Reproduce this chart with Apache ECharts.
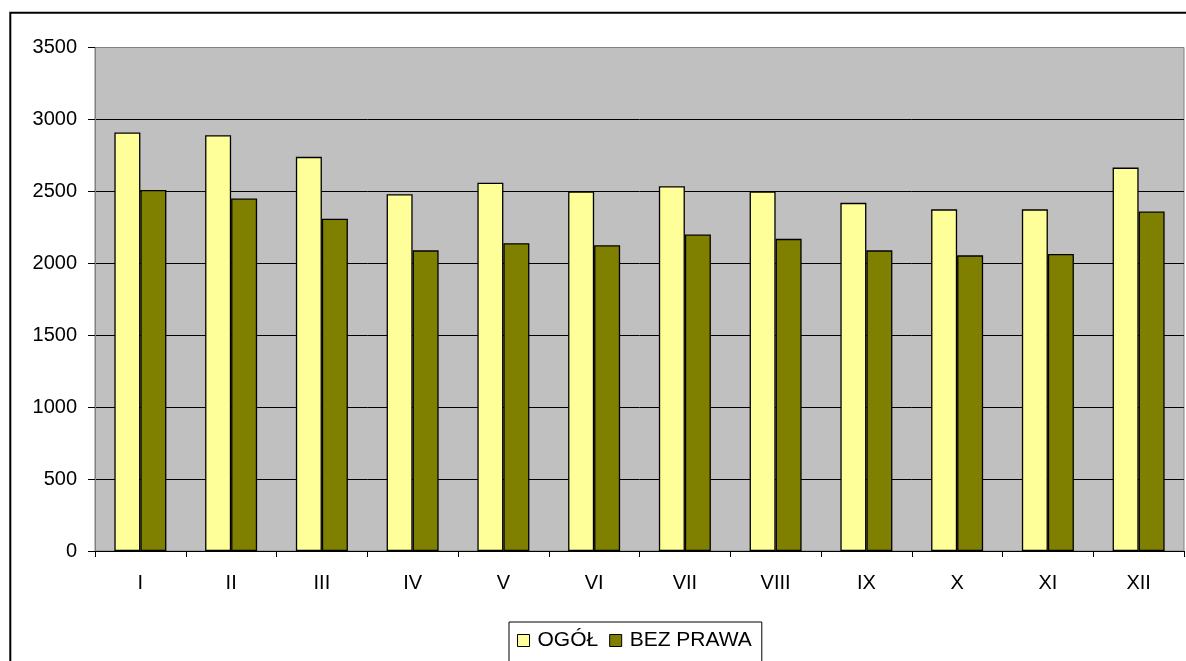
<!DOCTYPE html>
<html>
<head>
<meta charset="utf-8">
<script src="https://cdn.jsdelivr.net/npm/echarts@6/dist/echarts.min.js"></script>
<style>
html,body{margin:0;padding:0;background:#fff;}
#chart{width:1186px;height:661px;}
</style>
</head>
<body>
<div id="chart"></div>
<script>
const categories = ['I','II','III','IV','V','VI','VII','VIII','IX','X','XI','XII'];
const seriesNames = ['OGÓŁ','BEZ PRAWA'];
const ogol = [2910, 2890, 2740, 2480, 2560, 2500, 2535, 2500, 2420, 2375, 2375, 2665];
const bezPrawa = [2510, 2450, 2310, 2090, 2140, 2125, 2200, 2170, 2090, 2055, 2065, 2360];
const yTicks = [0, 500, 1000, 1500, 2000, 2500, 3000, 3500];

const chart = echarts.init(document.getElementById('chart'), null, {renderer:'canvas'});
const font = 'Liberation Sans, Arial, sans-serif';
chart.setOption({
  animation: false,
  backgroundColor: '#fff',
  textStyle: {fontFamily: font},
  graphic: [{
    type: 'rect',
    shape: {x: 10.3, y: 12.7, width: 1300, height: 800},
    style: {fill: 'none', stroke: '#000', lineWidth: 2},
    z: -10
  }],
  grid: {
    left: 95, top: 47.5, right: 2, bottom: 110,
    show: true, backgroundColor: '#C0C0C0', borderColor: '#808080', borderWidth: 1
  },
  legend: {
    left: 509, top: 622,
    data: seriesNames,
    icon: 'rect',
    itemWidth: 12, itemHeight: 12,
    itemGap: 11,
    borderColor: '#000', borderWidth: 1,
    padding: [8, 10, 30, 8],
    textStyle: {fontSize: 21, color: '#000', fontFamily: font, padding: [0,0,0,3]},
    itemStyle: {borderColor: '#000', borderWidth: 1}
  },
  xAxis: {
    type: 'category',
    data: categories,
    axisLine: {show: true, lineStyle: {color: '#000', width: 1}},
    axisTick: {show: true, length: 6, lineStyle: {color: '#000'}},
    axisLabel: {fontSize: 20, color: '#000', margin: 22, fontFamily: font}
  },
  yAxis: {
    type: 'value',
    min: yTicks[0], max: yTicks[yTicks.length-1], interval: 500,
    axisLine: {show: true, lineStyle: {color: '#808080'}},
    axisTick: {show: true, length: 7, lineStyle: {color: '#000'}},
    axisLabel: {fontSize: 20, color: '#000', margin: 18, fontFamily: font, formatter: v => String(v)},
    splitLine: {show: true, lineStyle: {color: ['#000','#000','#000','#000','#000','#000','#000','#808080'], width: 1}}
  },
  series: [
    {
      name: seriesNames[0], type: 'bar', data: ogol,
      barWidth: 26, barGap: '0%',
      itemStyle: {color: '#FFFF99', borderColor: '#000', borderWidth: 1.3}
    },
    {
      name: seriesNames[1], type: 'bar', data: bezPrawa,
      barWidth: 26,
      itemStyle: {color: '#808000', borderColor: '#000', borderWidth: 1.3}
    }
  ]
});
</script>
</body>
</html>
